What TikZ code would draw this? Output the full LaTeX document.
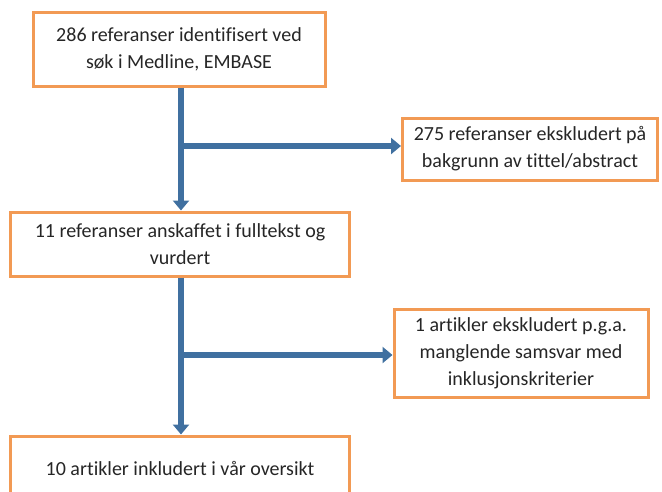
\documentclass[tikz,border=0pt]{standalone}
\usepackage{fontspec}
\setmainfont[Ligatures=NoCommon]{Carlito}
\usetikzlibrary{arrows.meta}
\definecolor{boxorange}{RGB}{242,154,84}
\definecolor{arrowblue}{RGB}{64,112,160}
\tikzset{
  flowbox/.style={draw=boxorange,line width=3pt,fill=white,align=center,
    inner sep=0pt,font=\fontsize{20}{27}\selectfont,text=black!85},
  flowarrow/.style={draw=arrowblue,line width=6pt,
    -{Triangle[width=16pt,length=10pt]}}
}
\begin{document}
\begin{tikzpicture}[x=1pt,y=-1pt]
  \useasboundingbox (0,0) rectangle (662,491);
  \clip (0,0) rectangle (662,491);
  % boxes
  \node[flowbox,minimum width=292pt,minimum height=74pt] (found) at (179,49)
    {286 referanser identifisert ved\\søk i Medline, EMBASE};
  \node[flowbox,minimum width=255pt,minimum height=62pt] (excl1) at (530,149)
    {275 referanser ekskludert på\\bakgrunn av tittel/abstract};
  \node[flowbox,minimum width=339pt,minimum height=64pt] (full) at (180,244)
    {11 referanser anskaffet i fulltekst og\\vurdert};
  \node[flowbox,minimum width=254pt,minimum height=88pt] (excl2) at (521,353)
    {1 artikler ekskludert p.g.a.\\manglende samsvar med\\inklusjonskriterier};
  \node[flowbox,minimum width=339pt,minimum height=64pt] (incl) at (180,468)
    {10 artikler inkludert i vår oversikt};
  % connectors
  \coordinate (split1) at (181,146);
  \coordinate (split2) at (181,355);
  \draw[flowarrow] (found.south -| split1) -- (full.north -| split1);
  \draw[flowarrow] (split1) -- (split1 -| excl1.west);
  \draw[flowarrow] (full.south -| split2) -- (incl.north -| split2);
  \draw[flowarrow] (split2) -- (split2 -| excl2.west);
\end{tikzpicture}
\end{document}
